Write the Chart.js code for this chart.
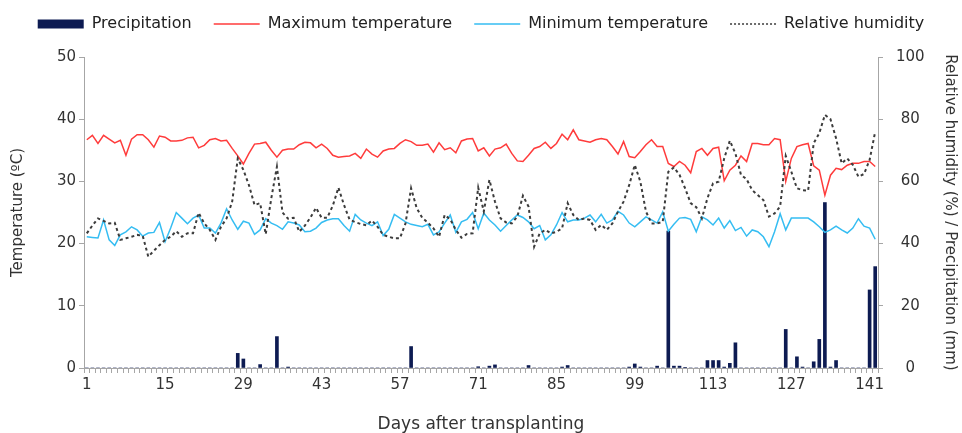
<!DOCTYPE html>
<html lang="en">

<head>
    <meta charset="UTF-8">
    <script src="https://cdn.jsdelivr.net/npm/chart.js"></script>
    <title>Clima</title>
    <style>
        body { margin: 0; background: #fff; }
        .divGrafico { width: 962px; height: 433px; }
    </style>
</head>

<body>
    <div class="divGrafico">
        <canvas id="grafico"></canvas>
    </div>
</body>

</html>

<script>
    // dias apos o transplante (1 a 142)
    var dias = []
    for (var d = 1; d <= 142; d++) dias.push(d)

    var tempMax = [
        36.7, 37.4, 36.1, 37.4, 36.8, 36.2, 36.6, 34.2, 36.8, 37.5,
        37.5, 36.7, 35.5, 37.3, 37.1, 36.5, 36.5, 36.6, 37.0, 37.1,
        35.4, 35.8, 36.7, 36.9, 36.5, 36.6, 35.3, 34.1, 32.8, 34.5,
        36.0, 36.1, 36.3, 35.0, 33.9, 35.0, 35.2, 35.2, 35.9, 36.3,
        36.2, 35.4, 36.0, 35.3, 34.2, 33.9, 34.0, 34.1, 34.5, 33.7,
        35.2, 34.4, 33.9, 34.9, 35.2, 35.3, 36.1, 36.7, 36.4, 35.8,
        35.8, 36.0, 34.7, 36.2, 35.1, 35.4, 34.6, 36.5, 36.8, 36.9,
        34.9, 35.4, 34.1, 35.2, 35.4, 36.0, 34.5, 33.3, 33.2, 34.2,
        35.3, 35.6, 36.3, 35.3, 36.1, 37.6, 36.7, 38.3, 36.7, 36.5,
        36.3, 36.7, 36.9, 36.7, 35.6, 34.4, 36.4, 34.0, 33.8, 34.8,
        35.9, 36.7, 35.6, 35.6, 32.9, 32.4, 33.2, 32.6, 31.4, 34.8,
        35.3, 34.2, 35.3, 35.5, 30.1, 31.8, 32.6, 34.1, 33.2, 36.1,
        36.1, 35.9, 35.9, 36.9, 36.7, 30.0, 33.7, 35.6, 35.9, 36.1,
        32.5, 31.8, 27.8, 31.0, 32.1, 31.9, 32.6, 32.9, 32.9, 33.2,
        33.2, 32.4
    ]

    var tempMin = [
        21.1, 21.0, 20.9, 23.8, 20.6, 19.7, 21.4, 21.9, 22.7, 22.2,
        21.2, 21.7, 21.8, 23.4, 20.3, 22.5, 25.0, 24.1, 23.2, 24.1,
        24.6, 22.5, 22.5, 21.7, 23.3, 25.6, 23.8, 22.3, 23.6, 23.3,
        21.5, 22.2, 24.0, 23.3, 22.9, 22.3, 23.5, 23.3, 23.0, 21.9,
        22.0, 22.5, 23.4, 23.8, 24.0, 24.0, 22.9, 22.0, 24.7, 23.8,
        23.3, 22.9, 23.5, 21.3, 22.3, 24.7, 24.1, 23.5, 23.1, 22.9,
        22.7, 23.1, 21.4, 21.9, 23.3, 24.6, 21.8, 23.5, 23.9, 25.0,
        22.4, 24.9, 23.8, 23.0, 22.0, 22.9, 23.8, 24.6, 24.2, 23.5,
        22.4, 22.9, 20.6, 21.4, 23.0, 25.0, 23.5, 23.8, 23.8, 24.1,
        24.6, 23.5, 24.7, 23.3, 23.8, 25.2, 24.6, 23.3, 22.7, 23.5,
        24.3, 23.8, 23.3, 25.1, 22.0, 23.1, 24.1, 24.2, 23.9, 21.9,
        24.3, 23.8, 23.0, 24.1, 22.5, 23.7, 22.1, 22.6, 21.2, 22.2,
        21.9, 21.1, 19.5, 21.9, 24.8, 22.2, 24.1, 24.1, 24.1, 24.1,
        23.5, 22.7, 21.8, 22.2, 22.8, 22.2, 21.7, 22.5, 24.0, 22.8,
        22.5, 20.7
    ]

    var umidade = [
        43.3, 45.8, 48.1, 47.3, 46.5, 46.7, 41.2, 41.7, 42.2, 42.8,
        42.5, 35.8, 37.7, 39.5, 41.2, 42.2, 44.0, 42.2, 43.3, 43.3,
        49.9, 46.5, 44.4, 41.2, 45.4, 48.1, 53.5, 67.4, 63.7, 58.8,
        52.4, 53.0, 43.0, 54.6, 64.7, 50.0, 48.0, 48.3, 43.8, 45.8,
        48.4, 51.5, 48.3, 48.3, 52.2, 58.0, 52.4, 47.7, 46.9, 46.3,
        45.9, 47.4, 45.4, 42.8, 42.2, 41.7, 41.7, 46.5, 57.8, 51.4,
        48.3, 46.7, 44.9, 42.2, 49.2, 47.8, 44.4, 41.9, 43.1, 43.3,
        58.0, 50.3, 60.5, 53.5, 48.1, 46.8, 46.5, 48.7, 55.4, 51.9,
        39.0, 43.3, 44.4, 43.3, 43.8, 44.9, 53.0, 49.2, 47.6, 48.1,
        47.6, 44.4, 46.0, 44.4, 46.5, 50.3, 53.5, 58.8, 65.3, 59.9,
        50.3, 46.5, 46.5, 47.0, 63.1, 64.5, 62.1, 57.8, 53.0, 51.7,
        48.1, 54.6, 59.4, 59.9, 67.4, 73.1, 69.0, 62.1, 60.7, 57.2,
        55.6, 54.0, 48.7, 49.7, 51.9, 68.2, 63.1, 57.8, 57.2, 57.0,
        72.3, 75.5, 81.4, 80.0, 73.9, 65.8, 67.4, 65.3, 61.5, 62.4,
        66.9, 76.0
    ]

    var precipitacao = [
        0, 0, 0, 0, 0, 0, 0, 0, 0, 0,
        0, 0, 0, 0, 0, 0, 0, 0, 0, 0,
        0, 0, 0, 0, 0, 0, 0, 4.7, 2.9, 0,
        0, 1.1, 0, 0, 10.1, 0, 0.3, 0, 0, 0,
        0, 0, 0, 0, 0, 0, 0, 0, 0, 0,
        0, 0, 0, 0, 0, 0, 0, 0, 6.9, 0,
        0, 0, 0, 0, 0, 0, 0, 0, 0, 0,
        0.4, 0, 0.6, 1.0, 0, 0, 0, 0, 0, 0.8,
        0, 0, 0, 0, 0, 0.3, 0.8, 0, 0, 0,
        0, 0, 0, 0, 0, 0, 0, 0.3, 1.3, 0.3,
        0, 0, 0.6, 0, 44, 0.6, 0.6, 0.2, 0, 0,
        0, 2.4, 2.4, 2.4, 0.3, 1.5, 8.1, 0, 0, 0,
        0, 0, 0, 0, 0, 12.4, 0, 3.6, 0.3, 0,
        2.0, 9.2, 53.2, 0.3, 2.4, 0, 0, 0, 0, 0,
        25.1, 32.6
    ]

    var ticksTemp = [0, 10, 20, 30, 40, 50]
    var ticksUmidade = [0, 20, 40, 60, 80, 100]

    var fonte = 'DejaVu Sans'
    var corEixo = '#a6a6a6'
    var corTexto = '#333'

    // fixa a altura da legenda para a area do grafico comecar no lugar certo
    var alturaLegenda = {
        id: 'alturaLegenda',
        beforeLayout(chart) {
            var lg = chart.legend
            if (lg && !lg._ajustado) {
                var fitOrig = lg.fit.bind(lg)
                lg.fit = function () { fitOrig(); this.height = 63 }
                lg._ajustado = true
            }
        }
    }

    var dadosClima = {
        labels: dias,
        datasets: [{
            type: 'bar',
            label: 'Precipitation',
            data: precipitacao,
            yAxisID: 'y1',
            backgroundColor: '#0d1b52',
            borderWidth: 0,
            barThickness: 3,
            pointStyle: 'rect',
            order: 4
        }, {
            type: 'line',
            label: 'Maximum temperature',
            data: tempMax,
            yAxisID: 'y',
            borderColor: '#ff3b3b',
            backgroundColor: '#ff3b3b',
            borderWidth: 1.5,
            tension: 0,
            pointRadius: 0,
            pointStyle: 'line',
            order: 2
        }, {
            type: 'line',
            label: 'Minimum temperature',
            data: tempMin,
            yAxisID: 'y',
            borderColor: '#35bdf2',
            backgroundColor: '#35bdf2',
            borderWidth: 1.5,
            tension: 0,
            pointRadius: 0,
            pointStyle: 'line',
            order: 3
        }, {
            type: 'line',
            label: 'Relative humidity',
            data: umidade,
            yAxisID: 'y1',
            borderColor: '#3c3c3c',
            backgroundColor: '#3c3c3c',
            borderWidth: 2,
            borderDash: [3, 3],
            tension: 0,
            pointRadius: 0,
            pointStyle: 'line',
            order: 1
        }]
    }

    const graficoClima = new Chart(grafico, {
        type: 'bar',
        data: dadosClima,
        plugins: [alturaLegenda],
        options: {
            responsive: true,
            maintainAspectRatio: false,
            animation: false,
            layout: { padding: { top: -6, left: 0, right: 0, bottom: 0 } },
            plugins: {
                tooltip: { enabled: false },
                legend: {
                    position: 'top',
                    labels: {
                        usePointStyle: true,
                        pointStyleWidth: 46,
                        boxHeight: 9,
                        padding: 22,
                        color: '#222',
                        font: { family: fonte, size: 16 },
                        sort: (a, b) => a.datasetIndex - b.datasetIndex,
                        generateLabels: chart => {
                            var itens = Chart.defaults.plugins.legend.labels.generateLabels(chart)
                            itens.forEach(it => {
                                var ds = chart.data.datasets[it.datasetIndex]
                                if (ds.type === 'bar') {
                                    it.lineWidth = 0
                                } else {
                                    it.lineWidth = 1.5
                                    it.strokeStyle = ds.borderColor
                                    it.lineDash = ds.borderDash ? [2, 2] : []
                                }
                            })
                            return itens
                        }
                    }
                }
            },
            scales: {
                x: {
                    offset: true,
                    afterFit: s => { s.height = 65 },
                    border: { display: true, color: corEixo },
                    grid: { display: true, drawOnChartArea: false, drawTicks: true, tickLength: 5, color: corEixo, offset: true },
                    ticks: {
                        autoSkip: false,
                        maxRotation: 0,
                        padding: 3,
                        color: corTexto,
                        font: { family: fonte, size: 15 },
                        callback: (v, i) => (i % 14 === 0 ? dias[i] : '')
                    },
                    title: {
                        display: true,
                        text: 'Days after transplanting',
                        color: corTexto,
                        font: { family: fonte, size: 17, lineHeight: 1 },
                        padding: { top: 0, bottom: 0 }
                    }
                },
                y: {
                    position: 'left',
                    min: 0,
                    max: 50,
                    afterFit: s => { s.width = 84 },
                    afterBuildTicks: s => { s.ticks = ticksTemp.map(v => ({ value: v })) },
                    border: { display: true, color: corEixo },
                    grid: { drawOnChartArea: false, drawTicks: true, tickLength: 5, color: corEixo },
                    ticks: { padding: 3, color: corTexto, font: { family: fonte, size: 15 } },
                    title: {
                        display: true,
                        text: 'Temperature (ºC)',
                        color: corTexto,
                        font: { family: fonte, size: 15 },
                        padding: { top: 9, bottom: 0 }
                    }
                },
                y1: {
                    position: 'right',
                    min: 0,
                    max: 100,
                    afterFit: s => { s.width = 84 },
                    afterBuildTicks: s => { s.ticks = ticksUmidade.map(v => ({ value: v })) },
                    border: { display: true, color: corEixo },
                    grid: { drawOnChartArea: false, drawTicks: true, tickLength: 5, color: corEixo },
                    ticks: { padding: 13, crossAlign: 'center', color: corTexto, font: { family: fonte, size: 15 } },
                    title: {
                        display: true,
                        text: 'Relative humidity (%) / Precipitation (mm)',
                        color: corTexto,
                        font: { family: fonte, size: 15 },
                        padding: { top: 3, bottom: 0 }
                    }
                }
            }
        }
    });
</script>
